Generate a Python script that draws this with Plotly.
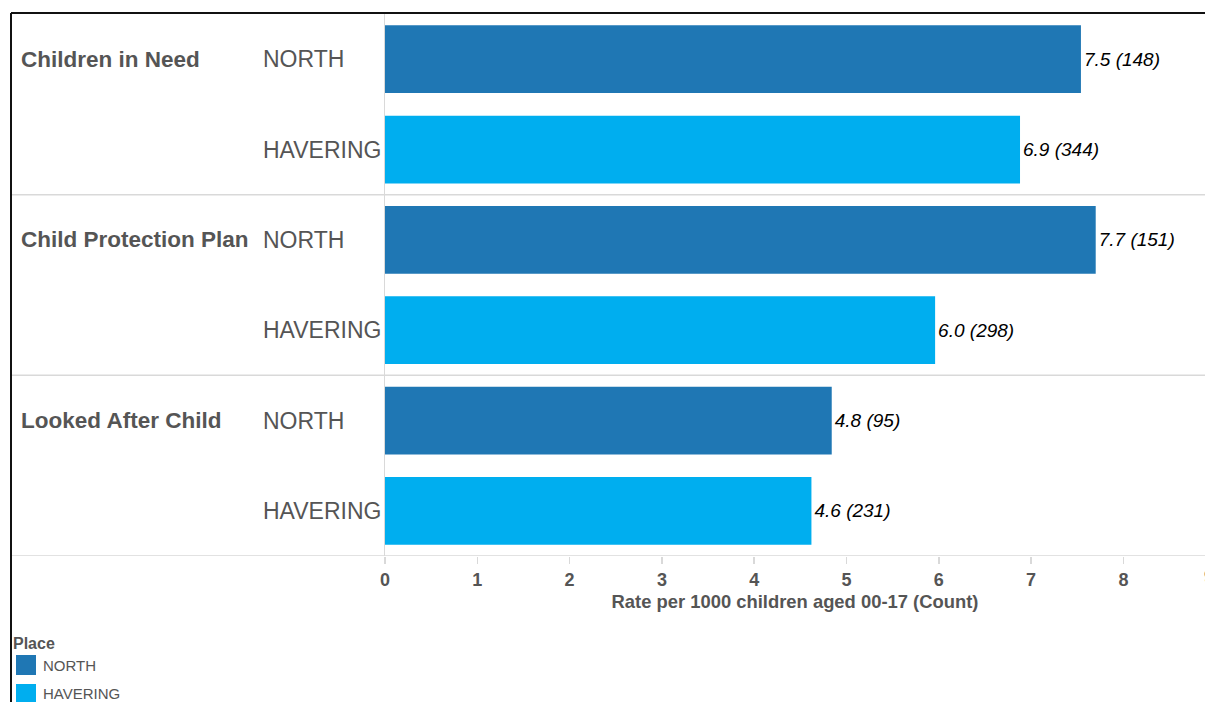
import plotly.graph_objects as go

# ---- data ----
measures = ["Children in Need", "Child Protection Plan", "Looked After Child"]
places = ["NORTH", "HAVERING"]
place_colors = ["#1F77B4", "#00AEEF"]
rates = {
    "NORTH":    [7.54, 7.70, 4.84],
    "HAVERING": [6.88, 5.96, 4.62],
}
counts = {
    "NORTH":    [148, 151, 95],
    "HAVERING": [344, 298, 231],
}
x_ticks = [0, 1, 2, 3, 4, 5, 6, 7, 8]
x_title = "Rate per 1000 children aged 00-17 (Count)"
legend_title = "Place"

# ---- layout geometry (page pixels) ----
FW, FH = 1205, 702
L, R, T, B = 385, 1205, 14, 556
PW, PH = R - L, B - T
UNIT = 92.3  # pixels per 1 rate unit


def px(x):
    return (x - L) / PW


def py(y):
    return (B - y) / PH


FONT = "Liberation Sans, Arial, sans-serif"
GREY = "#555555"
LINE = "#d9d9d9"

row_keys = [f"{m}|{p}" for m in measures for p in places]

fig = go.Figure()
for p, col in zip(places, place_colors):
    ys = [f"{m}|{p}" for m in measures]
    labels = [f"{v:.1f} ({c})" for v, c in zip(rates[p], counts[p])]
    fig.add_trace(go.Bar(
        y=ys, x=rates[p], orientation="h", name=p,
        marker=dict(color=col, line=dict(width=0)),
        text=labels, textposition="outside", cliponaxis=False,
        constraintext="none",
        textfont=dict(family=FONT, size=19, color="#000000", style="italic"),
        hoverinfo="skip", showlegend=False,
    ))

annotations = []
shapes = []
for i, m in enumerate(measures):
    annotations.append(dict(
        x=px(19), xref="paper", y=f"{m}|{places[0]}", yref="y",
        text=m, showarrow=False, xanchor="left", yanchor="middle",
        font=dict(family=FONT, size=22.5, color=GREY, weight="bold"),
    ))
    for p in places:
        annotations.append(dict(
            x=px(261), xref="paper", y=f"{m}|{p}", yref="y",
            text=p, showarrow=False, xanchor="left", yanchor="middle",
            font=dict(family=FONT, size=23, color=GREY),
        ))
    # separator under each group
    sep = 2 * i + 1.5
    shapes.append(dict(type="line", xref="paper", yref="y",
                       x0=px(11), x1=1, y0=sep, y1=sep,
                       line=dict(color=LINE, width=1.5)))

# black frame (top and left)
shapes.append(dict(type="line", xref="paper", yref="paper",
                   x0=px(11), x1=1, y0=py(13), y1=py(13),
                   line=dict(color="#111111", width=2)))
shapes.append(dict(type="line", xref="paper", yref="paper",
                   x0=px(11), x1=px(11), y0=py(13), y1=py(FH + 2),
                   line=dict(color="#111111", width=2)))

# partially visible tick "9" at the right edge
annotations.append(dict(
    x=px(1202), xref="paper", y=py(577), yref="paper",
    text="9", showarrow=False, xanchor="left", yanchor="middle",
    font=dict(family=FONT, size=18, color=GREY, weight="bold"),
))

# legend (manual)
annotations.append(dict(
    x=px(11), xref="paper", y=py(643), yref="paper", text=legend_title,
    showarrow=False, xanchor="left", yanchor="middle",
    font=dict(family=FONT, size=16, color=GREY, weight="bold"),
))
for j, (p, col) in enumerate(zip(places, place_colors)):
    top = 655 + j * 29
    shapes.append(dict(type="rect", xref="paper", yref="paper",
                       x0=px(16), x1=px(36), y0=py(top), y1=py(top + 20),
                       fillcolor=col, line=dict(width=0)))
    annotations.append(dict(
        x=px(41), xref="paper", y=py(top + 10), yref="paper", text=p,
        showarrow=False, xanchor="left", yanchor="middle",
        font=dict(family=FONT, size=15, color=GREY),
    ))

fig.update_layout(
    width=FW, height=FH,
    margin=dict(l=L, r=FW - R, t=T, b=FH - B, pad=0),
    paper_bgcolor="white", plot_bgcolor="white",
    bargap=0.25, barmode="overlay",
    font=dict(family=FONT, color=GREY),
    xaxis=dict(
        range=[0, PW / UNIT], tickvals=x_ticks, showgrid=False,
        zeroline=False, showline=False,
        ticks="outside", ticklen=7, tickcolor=LINE, tickwidth=1.5,
        tickfont=dict(family=FONT, size=18, color=GREY, weight="bold"),
        title=dict(text=x_title, standoff=6,
                   font=dict(family=FONT, size=18.4, color=GREY, weight="bold")),
        fixedrange=True,
    ),
    yaxis=dict(
        categoryorder="array", categoryarray=row_keys,
        range=[len(row_keys) - 0.5, -0.5],
        showticklabels=False, ticks="", showgrid=False, zeroline=False,
        showline=True, linecolor=LINE, linewidth=1.5,
        fixedrange=True,
    ),
    shapes=shapes, annotations=annotations,
)

fig.write_html(
    "out.html",
    config={"displayModeBar": False, "staticPlot": True},
    post_script="document.body.style.margin='0';"
                "document.body.style.overflow='hidden';",
)
